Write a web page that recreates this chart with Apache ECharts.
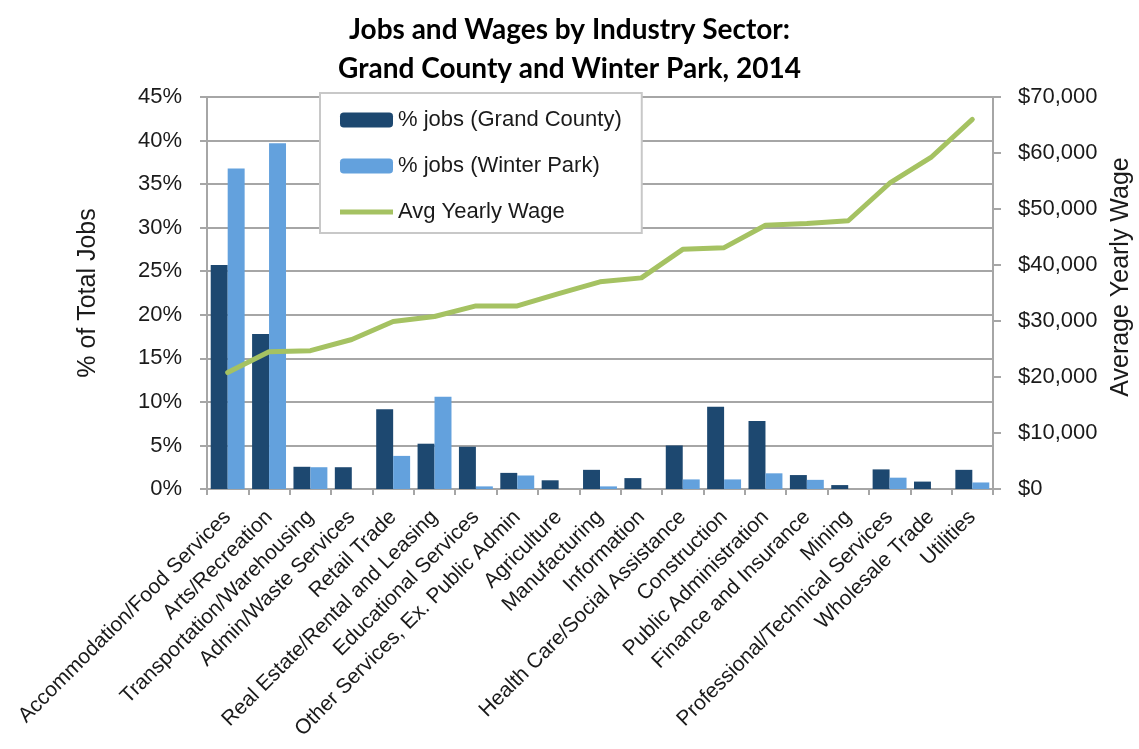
<!DOCTYPE html>
<html>
<head>
<meta charset="utf-8">
<script src="https://cdn.jsdelivr.net/npm/echarts@6/dist/echarts.min.js"></script>
<style>
  html, body { margin: 0; padding: 0; background: #fff; }
  #chart { width: 1139px; height: 749px; }
</style>
</head>
<body>
<div id="chart"></div>
<script>
// industry sectors, sorted by average wage
const sectors = [
  'Accommodation/Food Services', 'Arts/Recreation', 'Transportation/Warehousing',
  'Admin/Waste Services', 'Retail Trade', 'Real Estate/Rental and Leasing',
  'Educational Services', 'Other Services, Ex. Public Admin', 'Agriculture',
  'Manufacturing', 'Information', 'Health Care/Social Assistance', 'Construction',
  'Public Administration', 'Finance and Insurance', 'Mining',
  'Professional/Technical Services', 'Wholesale Trade', 'Utilities'
]
const jobsGrandCounty = [25.7, 17.8, 2.55, 2.5, 9.15, 5.2, 4.85, 1.85, 1.0, 2.2, 1.25, 5.0, 9.45, 7.8, 1.6, 0.45, 2.25, 0.85, 2.2]
const jobsWinterPark = [36.8, 39.7, 2.5, 0, 3.8, 10.6, 0.3, 1.55, 0, 0.3, 0, 1.1, 1.1, 1.8, 1.05, 0, 1.3, 0, 0.75]
const avgWage = [20800, 24500, 24700, 26700, 29900, 30800, 32700, 32700, 34900, 37000, 37700, 42800, 43100, 47100, 47400, 47900, 54600, 59200, 66000]

const FONT = "'Liberation Sans', Arial, sans-serif"
const TXT = '#1a1a1a'
const GRID_COLOR = '#a6a6a6'
const LINE_COLOR = '#a5c262'

const chart = echarts.init(document.getElementById('chart'))

chart.setOption({
  animation: false,
  title: {
    text: 'Jobs and Wages by Industry Sector:\nGrand County and Winter Park, 2014',
    left: 'center',
    top: 5,
    textStyle: {
      fontFamily: 'Lato',
      fontWeight: 'bold',
      fontSize: 28,
      lineHeight: 39,
      color: '#000'
    }
  },
  legend: {
    orient: 'vertical',
    left: 320,
    top: 93,
    padding: [16, 20, 10, 20],
    itemGap: 24,
    itemWidth: 53,
    itemHeight: 15,
    backgroundColor: '#fff',
    borderColor: '#c8c8c8',
    borderWidth: 2,
    textStyle: { fontFamily: FONT, fontSize: 22, color: TXT },
    data: [
      '% jobs (Grand County)',
      '% jobs (Winter Park)',
      { name: 'Avg Yearly Wage', icon: 'path://M0,0 H106 V10 H0 Z' }
    ]
  },
  grid: {
    left: 207,
    right: 146,
    top: 97,
    bottom: 260,
    outerBoundsMode: 'none'
  },
  xAxis: {
    type: 'category',
    data: sectors,
    boundaryGap: true,
    axisLine: { lineStyle: { color: GRID_COLOR, width: 2 } },
    axisTick: { show: true, length: 6, lineStyle: { color: GRID_COLOR, width: 2 } },
    axisLabel: {
      rotate: 45,
      interval: 0,
      margin: 25,
      fontFamily: FONT,
      fontSize: 21,
      color: TXT
    }
  },
  yAxis: [{
    type: 'value',
    min: 0,
    max: 45,
    interval: 5,
    name: '% of Total Jobs',
    nameLocation: 'middle',
    nameGap: 106,
    nameTextStyle: { fontFamily: FONT, fontSize: 25, color: TXT },
    axisLine: { show: true, lineStyle: { color: GRID_COLOR, width: 2 } },
    axisTick: { show: true, length: 7, lineStyle: { color: GRID_COLOR, width: 2 } },
    axisLabel: {
      formatter: '{value}%',
      margin: 25,
      fontFamily: FONT,
      fontSize: 22,
      color: TXT
    },
    splitLine: { lineStyle: { color: GRID_COLOR, width: 2 } }
  }, {
    type: 'value',
    min: 0,
    max: 70000,
    interval: 10000,
    name: 'Average Yearly Wage',
    nameLocation: 'middle',
    nameGap: 114,
    nameTextStyle: { fontFamily: FONT, fontSize: 25, color: TXT, padding: [0, 0, 0, 32] },
    axisLine: { show: true, lineStyle: { color: GRID_COLOR, width: 2 } },
    axisTick: { show: true, length: 8, lineStyle: { color: GRID_COLOR, width: 2 } },
    axisLabel: {
      formatter: v => '$' + v.toLocaleString('en-US'),
      margin: 25,
      fontFamily: FONT,
      fontSize: 22,
      color: TXT
    },
    splitLine: { show: false }
  }],
  series: [{
    name: '% jobs (Grand County)',
    type: 'bar',
    data: jobsGrandCounty,
    barGap: '0%',
    barCategoryGap: '18%',
    itemStyle: { color: '#1d4870' }
  }, {
    name: '% jobs (Winter Park)',
    type: 'bar',
    data: jobsWinterPark,
    itemStyle: { color: '#63a1dd' }
  }, {
    name: 'Avg Yearly Wage',
    type: 'line',
    yAxisIndex: 1,
    data: avgWage,
    symbol: 'none',
    z: 5,
    lineStyle: { color: LINE_COLOR, width: 5, cap: 'round', join: 'round' },
    itemStyle: { color: LINE_COLOR }
  }]
})
</script>
</body>
</html>
